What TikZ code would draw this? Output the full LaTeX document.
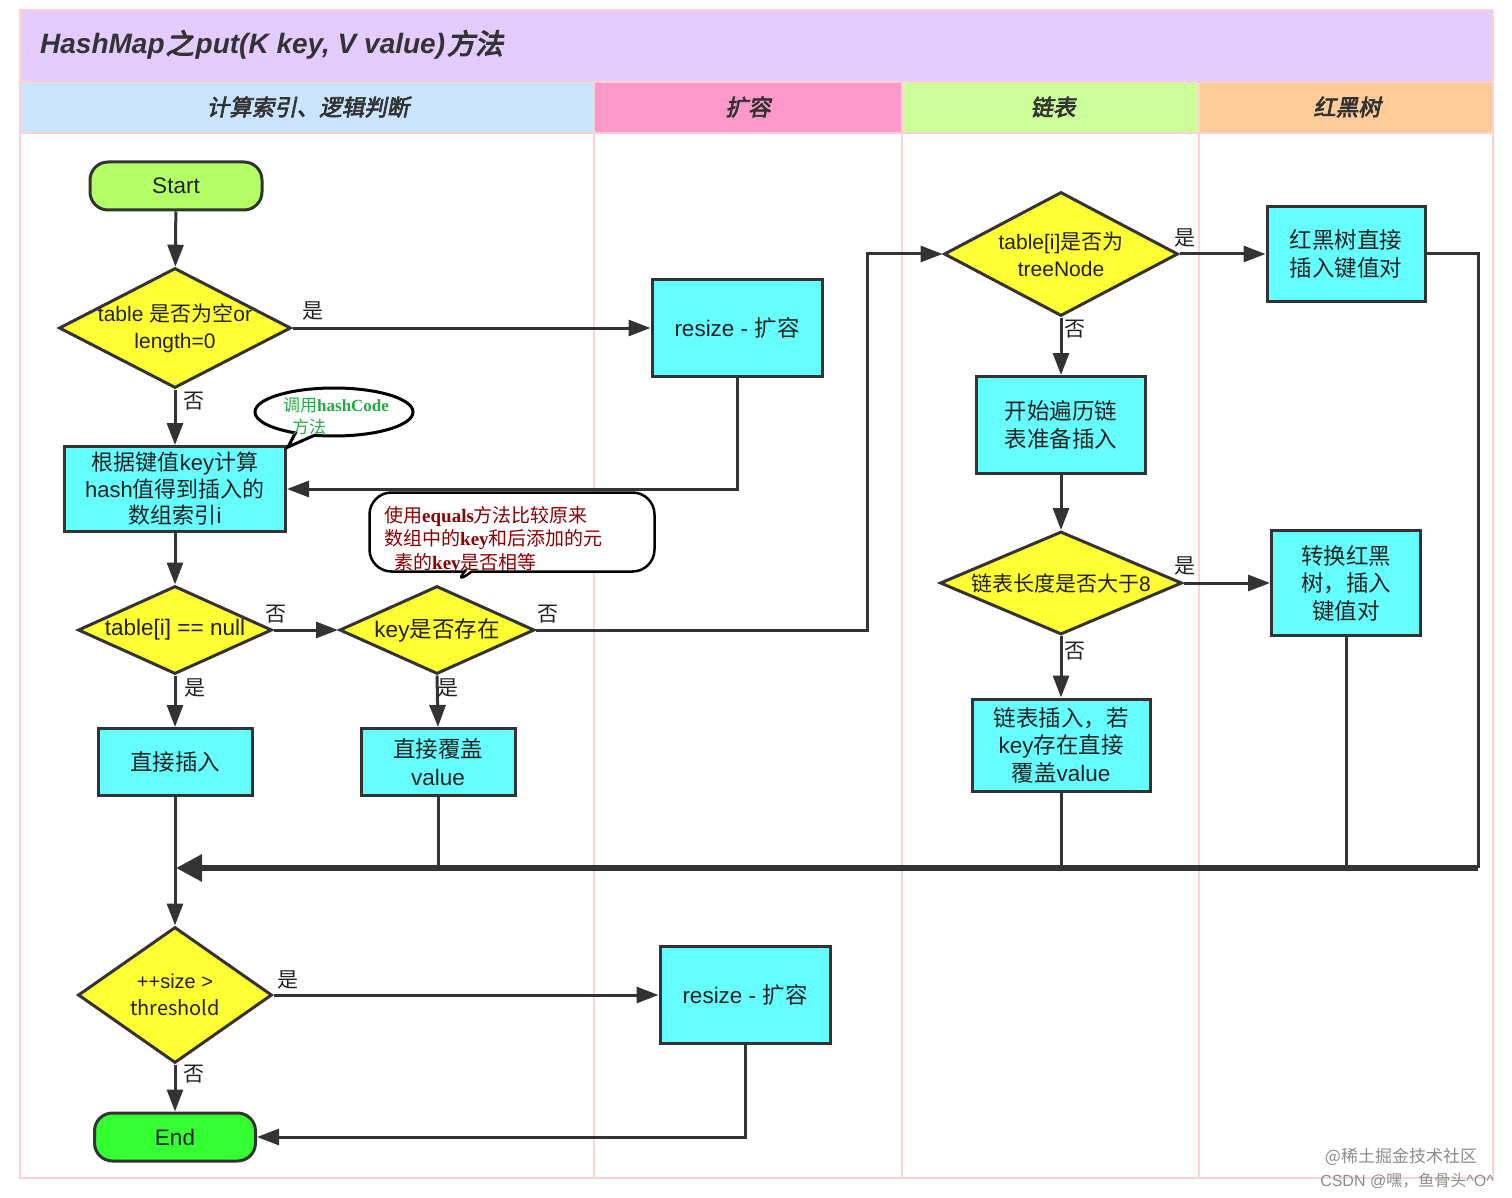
\documentclass[tikz,border=0pt]{standalone}
\usepackage{fontspec}
\setmainfont{Noto Sans CJK SC}
\newfontfamily\lat{Liberation Sans}
\newfontfamily\serlat{Liberation Serif}
\newfontfamily\hdfont[FakeSlant=0.2,FakeBold=3]{Noto Sans CJK SC}
\newfontfamily\ttlfont[FakeSlant=0.2,FakeBold=4]{Noto Sans CJK SC}
\usetikzlibrary{shapes.geometric,shapes.callouts,arrows.meta,calc}
\definecolor{lc}{HTML}{333333}
\definecolor{lanebd}{HTML}{FFD2D2}
\definecolor{titlebg}{HTML}{E5CCFF}
\definecolor{hA}{HTML}{CCE5FF}
\definecolor{hB}{HTML}{FF99CC}
\definecolor{hC}{HTML}{CCFF99}
\definecolor{hD}{HTML}{FFCC99}
\definecolor{cyanbox}{HTML}{66FFFF}
\definecolor{yel}{HTML}{FFFF33}
\definecolor{startg}{HTML}{B2FF66}
\definecolor{endg}{HTML}{33FF33}
\definecolor{cgreen}{HTML}{22AA44}
\definecolor{cred}{HTML}{8B0000}
\definecolor{tx}{HTML}{222222}
\newcommand\myfnt{\fontsize{22.5pt}{27.5pt}\selectfont}
\newcommand\dfnt{\fontsize{21pt}{27pt}\selectfont}
\newcommand\lblfnt{\fontsize{21pt}{24pt}\selectfont}
\begin{document}
\begin{tikzpicture}[x=1pt,y=-1pt,
  box/.style={draw=lc, line width=3pt, fill=cyanbox, inner sep=0pt, align=center, text=tx, font=\myfnt},
  dia/.style={diamond, draw=lc, line width=3pt, fill=yel, inner sep=0pt},
  dtxt/.style={align=center, text=tx, font=\myfnt, inner sep=0pt},
  term/.style={draw=lc, line width=3pt, rounded corners=18pt, inner sep=0pt, font=\myfnt, text=tx},
  arr/.style={draw=lc, line width=3pt, -{Triangle[length=22pt,width=16pt]}},
  ln/.style={draw=lc, line width=3pt},
  lbl/.style={font=\lblfnt, text=tx, inner sep=0pt},
  hdr/.style={font=\hdfont\fontsize{22.5pt}{24pt}\selectfont, text=black!80, inner sep=0pt}
]
\useasboundingbox (0,0) rectangle (1512,1198);
% background lanes
\fill[white] (0,0) rectangle (1512,1198);
\fill[titlebg] (20,10) rectangle (1493,82);
\fill[hA] (20,82) rectangle (594,133);
\fill[hB] (594,82) rectangle (902,133);
\fill[hC] (902,82) rectangle (1199,133);
\fill[hD] (1199,82) rectangle (1493,133);
\draw[lanebd, line width=2.5pt] (20,10) rectangle (1493,1178);
\draw[lanebd, line width=2.5pt] (20,82) -- (1493,82);
\draw[lanebd, line width=2.5pt] (20,133) -- (1493,133);
\foreach \xx in {594,902,1199} \draw[lanebd, line width=2.5pt] (\xx,82) -- (\xx,1178);
\node[anchor=west, inner sep=0pt, font=\fontsize{28pt}{30pt}\selectfont, text=black!80] (title) at (40,45)
  {{\lat\bfseries\itshape HashMap}\kern1pt{\ttlfont 之}\kern2pt{\lat\bfseries\itshape put(K key, V value)}\kern2pt{\ttlfont 方法}};
\node[hdr] (h1) at (308,107) {计算索引、逻辑判断};
\node[hdr] (h2) at (748,107) {扩容};
\node[hdr] (h3) at (1053,107) {链表};
\node[hdr] (h4) at (1347,107) {红黑树};

% nodes
\node[term, fill=startg, minimum width=172pt, minimum height=48pt] (start) at (176,186) {\lat Start};
\node[dia, minimum width=232pt, minimum height=120pt] (d1) at (175,328) {};
\node[dtxt, font=\dfnt] (d1t) at (175,328) {{\lat table }是否为空{\lat or}\\{\lat length=0}};
\node[box, minimum width=170pt, minimum height=97pt] (r1) at (737,328) {{\lat resize - }扩容};
\node[box, minimum width=221pt, minimum height=85pt, font=\fontsize{22pt}{26.5pt}\selectfont] (hash) at (175,489) {根据键值{\lat key}计算\\{\lat hash}值得到插入的\\数组索引{\lat i}};
\node[dia, minimum width=194pt, minimum height=88pt] (d2) at (175,630) {};
\node[dtxt] (d2t) at (175,630) {\lat table[i] == null};
\node[dia, minimum width=195pt, minimum height=88pt] (d3) at (437,630) {};
\node[dtxt] (d3t) at (437,630) {{\lat key}是否存在};
\node[box, minimum width=154pt, minimum height=67pt] (ins) at (175,762) {直接插入};
\node[box, minimum width=154pt, minimum height=67pt] (cov) at (438,762) {直接覆盖\\{\lat value}};
\node[dia, minimum width=234pt, minimum height=124pt] (d4) at (1061,254) {};
\node[dtxt, font=\dfnt] (d4t) at (1061,254) {{\lat table[i]}是否为\\{\lat treeNode}};
\node[box, minimum width=158pt, minimum height=95pt] (rb1) at (1346,254) {红黑树直接\\插入键值对};
\node[box, minimum width=169pt, minimum height=97pt] (trav) at (1061,425) {开始遍历链\\表准备插入};
\node[dia, minimum width=242pt, minimum height=103pt] (d5) at (1061,583) {};
\node[dtxt, font=\dfnt] (d5t) at (1061,583) {链表长度是否大于{\lat 8}};
\node[box, minimum width=149pt, minimum height=105pt] (conv) at (1346,583) {转换红黑\\树，插入\\键值对};
\node[box, minimum width=178pt, minimum height=92pt] (ll) at (1061,745) {链表插入，若\\{\lat key}存在直接\\覆盖{\lat value}};
\node[dia, minimum width=194pt, minimum height=136pt] (d6) at (175,995) {};
\node[dtxt, font=\fontsize{20pt}{27pt}\selectfont] (d6t) at (175,995) {\lat ++size >\\threshold};
\node[box, minimum width=170pt, minimum height=97pt] (r2) at (745,995) {{\lat resize - }扩容};
\node[term, fill=endg, minimum width=161pt, minimum height=48pt] (end) at (175,1137) {\lat End};

% callouts
\node[ellipse callout, draw=black, line width=3pt, fill=white, minimum width=158pt, minimum height=48pt, callout absolute pointer={(288,447)}] (c1) at (334,412) {};
\node[anchor=west, align=left, inner sep=0pt, text=cgreen, font=\fontsize{17pt}{22pt}\selectfont] (c1t) at (283,416) {调用{\serlat\bfseries hashCode}\\\hspace*{9pt}方法};
\node[rectangle callout, rounded corners=22pt, draw=black, line width=2.5pt, fill=white, minimum width=285pt, minimum height=79pt, callout absolute pointer={(452,586)}] (c2) at (512,532) {};
\node[anchor=west, align=left, inner sep=0pt, text=cred, font=\fontsize{19pt}{23.5pt}\selectfont] (c2t) at (384,540) {使用{\serlat\bfseries equals}方法比较原来\\数组中的{\serlat\bfseries key}和后添加的元\\\hspace*{10pt}素的{\serlat\bfseries key}是否相等};

% coordinates
\coordinate (m) at (176,868);
\coordinate (cr) at (1478,868);
\coordinate (j1) at (867,630);

% connectors
\draw[arr] (start) -- (d1);
\draw[arr] (d1.east) -- (r1.west);
\draw[arr] (d1.south) -- (hash.north);
\draw[arr] (r1.south) |- (hash.east);
\draw[arr] (hash.south) -- (d2.north);
\draw[arr] (d2.east) -- (d3.west);
\draw[arr] (d2.south) -- (ins.north);
\draw[arr] (d3.south) -- (cov.north);
\draw[arr] (d3.east) -- (j1) |- (d4.west);
\draw[arr] (d4.east) -- (rb1.west);
\draw[arr] (d4.south) -- (trav.north);
\draw[arr] (trav.south) -- (d5.north);
\draw[arr] (d5.east) -- (conv.west);
\draw[arr] (d5.south) -- (ll.north);
\draw[ln] (rb1.east) -| (cr);
\draw[ln] (conv.south) -- (conv.south |- m);
\draw[ln] (ll.south) -- (ll.south |- m);
\draw[ln] (cov.south) -- (cov.south |- m);
\draw[draw=lc, line width=6pt, -{Triangle[length=26pt,width=26pt]}] (cr) -- (m);
\draw[arr] (ins.south) -- (d6.north);
\draw[arr] (d6.east) -- (r2.west);
\draw[arr] (d6.south) -- (end.north);
\draw[arr] (r2.south) |- (end.east);

% labels
\node[lbl] (l1) at (313,311) {是};
\node[lbl] (l2) at (194,401) {否};
\node[lbl] (l3) at (276,614) {否};
\node[lbl] (l4) at (195,688) {是};
\node[lbl] (l5) at (448,688) {是};
\node[lbl] (l6) at (548,614) {否};
\node[lbl] (l7) at (1185,238) {是};
\node[lbl] (l8) at (1075,329) {否};
\node[lbl] (l9) at (1185,566) {是};
\node[lbl] (l10) at (1075,651) {否};
\node[lbl] (l11) at (288,980) {是};
\node[lbl] (l12) at (194,1074) {否};

% watermark
\node[inner sep=0pt, text=black!45, font=\fontsize{17pt}{20pt}\selectfont] (w1) at (1401,1157) {@稀土掘金技术社区};
\node[inner sep=0pt, text=black!45, font=\fontsize{16pt}{20pt}\selectfont] (w2) at (1407,1181) {{\lat CSDN @}嘿，鱼骨头{\lat\textasciicircum O\textasciicircum}};
\end{tikzpicture}
\end{document}
